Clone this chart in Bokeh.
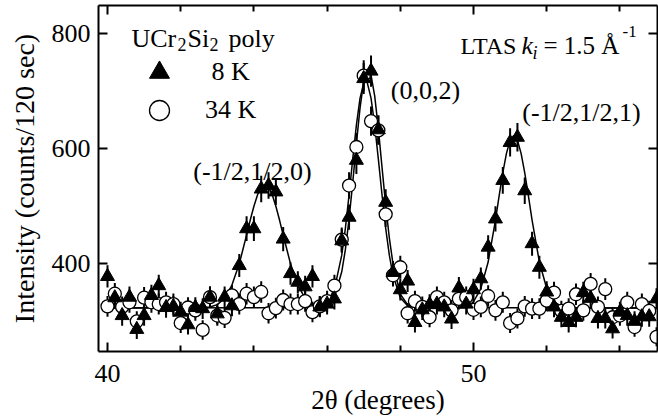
import numpy as np
from bokeh.plotting import figure
from bokeh.models import (ColumnDataSource, FixedTicker, LinearAxis, Label,
                          Legend, LegendItem, Range1d)
from bokeh.embed import file_html
from bokeh.resources import INLINE

# ---------------- data ----------------
two_theta = [40.0, 40.2, 40.4, 40.6, 40.8, 41.0, 41.2, 41.4, 41.6, 41.8,
             42.0, 42.2, 42.4, 42.6, 42.8, 43.0, 43.2, 43.4, 43.6, 43.8,
             44.0, 44.2, 44.4, 44.6, 44.8, 45.0, 45.2, 45.4, 45.6, 45.8,
             46.0, 46.2, 46.4, 46.6, 46.8, 47.0, 47.2, 47.4, 47.6, 47.8,
             48.0, 48.2, 48.4, 48.6, 48.8, 49.0, 49.2, 49.4, 49.6, 49.8,
             50.0, 50.2, 50.4, 50.6, 50.8, 51.0, 51.2, 51.4, 51.6, 51.8,
             52.0, 52.2, 52.4, 52.6, 52.8, 53.0, 53.2, 53.4, 53.6, 53.8,
             54.0, 54.2, 54.4, 54.6, 54.8, 55.0]

counts_8K = [378, 341, 310, 342, 286, 310, 345, 362, 324, 326,
             316, 294, 324, 322, 342, 313, 342, 327, 397, 461,
             461, 530, 536, 525, 443, 383, 368, 360, 378, 325,
             330, 339, 440, 481, 580, 722, 735, 633, 507, 385,
             355, 370, 298, 320, 329, 330, 325, 304, 358, 330,
             355, 374, 429, 478, 545, 611, 620, 527, 435, 394,
             351, 325, 307, 298, 307, 350, 340, 305, 305, 287,
             316, 310, 300, 308, 308, 339]

counts_34K = [326, 348, 325, 333, 300, 341, 333, 330, 333, 330,
              297, 324, 319, 285, 342, 310, 306, 345, 330, 348,
              342, 351, 314, 323, 337, 330, 330, 335, 316, 326,
              335, 362, 442, 536, 603, 727, 648, 632, 486, 380,
              394, 314, 335, 325, 307, 342, 333, 319, 339, 342,
              320, 325, 344, 319, 333, 297, 305, 326, 322, 322,
              336, 350, 318, 322, 347, 319, 365, 325, 356, 307,
              310, 333, 290, 330, 318, 273]

fit_8K_x = [40.0, 42.6, 42.8, 43.0, 43.2, 43.4, 43.6, 43.8, 43.9, 44.0,
            44.1, 44.2, 44.3, 44.4, 44.5, 44.6, 44.7, 44.8, 45.0, 45.2,
            45.4, 45.6, 45.8, 46.0, 46.2, 46.4, 46.5, 46.6, 46.7, 46.8,
            46.9, 47.0, 47.1, 47.2, 47.3, 47.4, 47.5, 47.6, 47.7, 47.8,
            48.0, 48.2, 48.4, 48.6, 49.8, 50.0, 50.2, 50.4, 50.6, 50.7,
            50.8, 50.9, 51.0, 51.1, 51.2, 51.3, 51.4, 51.5, 51.6, 51.8,
            52.0, 52.2, 52.4, 52.6, 55.0]
fit_8K_y = [323, 324, 325, 329, 340, 363, 400, 450, 476, 500,
            520, 533, 537, 533, 520, 500, 476, 450, 400, 363,
            340, 329, 326, 327, 342, 386, 425, 478, 541, 609,
            671, 717, 737, 728, 692, 635, 568, 502, 445, 400,
            347, 329, 324, 323, 324, 334, 357, 403, 476, 518,
            558, 592, 615, 623, 615, 592, 558, 518, 476, 403,
            357, 334, 326, 323, 323]

fit_34K_x = [40.0, 45.6, 45.8, 46.0, 46.2, 46.4, 46.5, 46.6, 46.7, 46.8,
             46.9, 47.0, 47.05, 47.1, 47.2, 47.3, 47.4, 47.5, 47.6, 47.7,
             47.8, 48.0, 48.2, 48.4, 55.0]
fit_34K_y = [323, 324, 325, 332, 356, 415, 462, 520, 582, 641,
             688, 714, 718, 714, 688, 641, 582, 520, 462, 415,
             380, 341, 327, 324, 323]

x_major_ticks = [40, 50]
x_minor_ticks = [42, 44, 46, 48, 52, 54]
y_major_ticks = [400, 600, 800]

series_labels = ["\u00a08 K", "34 K"]

# ---------------- figure ----------------
FONT = "Liberation Serif"

p = figure(width=658, height=418,
           x_range=Range1d(39.754, 55.027), y_range=Range1d(247.5, 849),
           output_backend="svg", toolbar_location=None,
           min_border_left=98, min_border_right=1,
           min_border_top=5, min_border_bottom=67)
p.xgrid.visible = False
p.ygrid.visible = False
p.outline_line_color = None
p.background_fill_color = "white"
p.border_fill_color = "white"


def style_axis(ax, show_labels):
    ax.axis_line_color = "black"
    ax.axis_line_width = 2
    ax.major_tick_line_color = "black"
    ax.major_tick_line_width = 2
    ax.minor_tick_line_color = "black"
    ax.minor_tick_line_width = 2
    ax.major_tick_in = 9
    ax.major_tick_out = 0
    ax.minor_tick_in = 6
    ax.minor_tick_out = 0
    ax.major_label_text_font = FONT
    ax.axis_label_text_font = FONT
    ax.axis_label_text_font_style = "normal"
    ax.axis_label_text_color = "black"
    if show_labels:
        ax.major_label_text_font_size = "26px"
        ax.major_label_text_color = "black"
    else:
        ax.major_label_text_font_size = "1px"
        ax.major_label_text_color = None
        ax.major_label_text_alpha = 0
        ax.major_label_standoff = 0


xt = FixedTicker(ticks=x_major_ticks, minor_ticks=x_minor_ticks)
yt = FixedTicker(ticks=y_major_ticks, minor_ticks=[])

p.xaxis.ticker = xt
p.yaxis.ticker = yt
style_axis(p.xaxis[0], True)
style_axis(p.yaxis[0], True)
p.xaxis.major_label_standoff = 13
p.xaxis.axis_label = "2\u03b8 (degrees)"
p.xaxis.axis_label_text_font_size = "27px"
p.xaxis.axis_label_standoff = 0
p.yaxis.major_label_standoff = 8
p.yaxis.axis_label = "Intensity (counts/120 sec)"
p.yaxis.axis_label_text_font_size = "28px"
p.yaxis.axis_label_standoff = 9

top = LinearAxis(ticker=FixedTicker(ticks=x_major_ticks, minor_ticks=x_minor_ticks))
style_axis(top, False)
p.add_layout(top, "above")
right = LinearAxis(ticker=FixedTicker(ticks=y_major_ticks, minor_ticks=[]))
style_axis(right, False)
p.add_layout(right, "right")

# ---------------- data sources ----------------
y8 = np.array(counts_8K, dtype=float)
y34 = np.array(counts_34K, dtype=float)
e8 = np.sqrt(y8)
e34 = np.sqrt(y34)
src8 = ColumnDataSource(dict(x=two_theta, y=y8, lo=y8 - e8, hi=y8 + e8))
src34 = ColumnDataSource(dict(x=two_theta, y=y34, lo=y34 - e34, hi=y34 + e34))

p.segment(x0="x", y0="lo", x1="x", y1="hi", source=src34,
          line_color="black", line_width=2)
p.segment(x0="x", y0="lo", x1="x", y1="hi", source=src8,
          line_color="black", line_width=2)
p.line(fit_34K_x, fit_34K_y, line_color="black", line_width=1.5)
p.line(fit_8K_x, fit_8K_y, line_color="black", line_width=1.5)
r34 = p.scatter("x", "y", source=src34, marker="circle", size=13,
                fill_color="white", line_color="black", line_width=1.3)
r8 = p.scatter("x", "y", source=src8, marker="triangle", size=14,
               fill_color="black", line_color="black", line_width=1)


def make_legend(label, renderer, loc):
    lg = Legend(items=[LegendItem(label=label, renderers=[renderer])],
                location=loc, glyph_width=50, glyph_height=50,
                spacing=0, label_standoff=21, padding=0, margin=0,
                border_line_color=None, background_fill_alpha=0,
                label_text_font=FONT, label_text_font_size="26px",
                label_text_color="black")
    p.add_layout(lg)


make_legend(series_labels[0], r8, (36, 254))
make_legend(series_labels[1], r34, (36, 216))

# ---------------- text annotations (page pixel positions) ----------------
FL, FB = 98, 351


def lab(text, X, Y, size, style="normal", align="left"):
    p.add_layout(Label(x=X - FL, y=FB - Y, x_units="screen", y_units="screen",
                       text=text, text_font=FONT, text_font_size=f"{size}px",
                       text_font_style=style, text_align=align,
                       text_baseline="alphabetic", text_color="black"))


lab("UCr", 131, 38, 26)
lab("2", 177, 44, 18)
lab("Si", 187, 38, 26)
lab("2", 209, 44, 18)
lab("poly", 228, 38, 26)

lab("(-1/2,1/2,0)", 252, 171, 26, align="center")
lab("(0,0,2)", 425, 90, 26, align="center")
lab("(-1/2,1/2,1)", 581, 112, 26, align="center")

lab("LTAS", 460, 45, 24)
lab("k", 521, 45, 26, style="italic")
lab("i", 532, 52, 18, style="italic")
lab("= 1.5 \u00c5", 543, 45, 25)
lab("-1", 622, 31, 17)

open("out.html", "w").write(file_html(p, INLINE))
